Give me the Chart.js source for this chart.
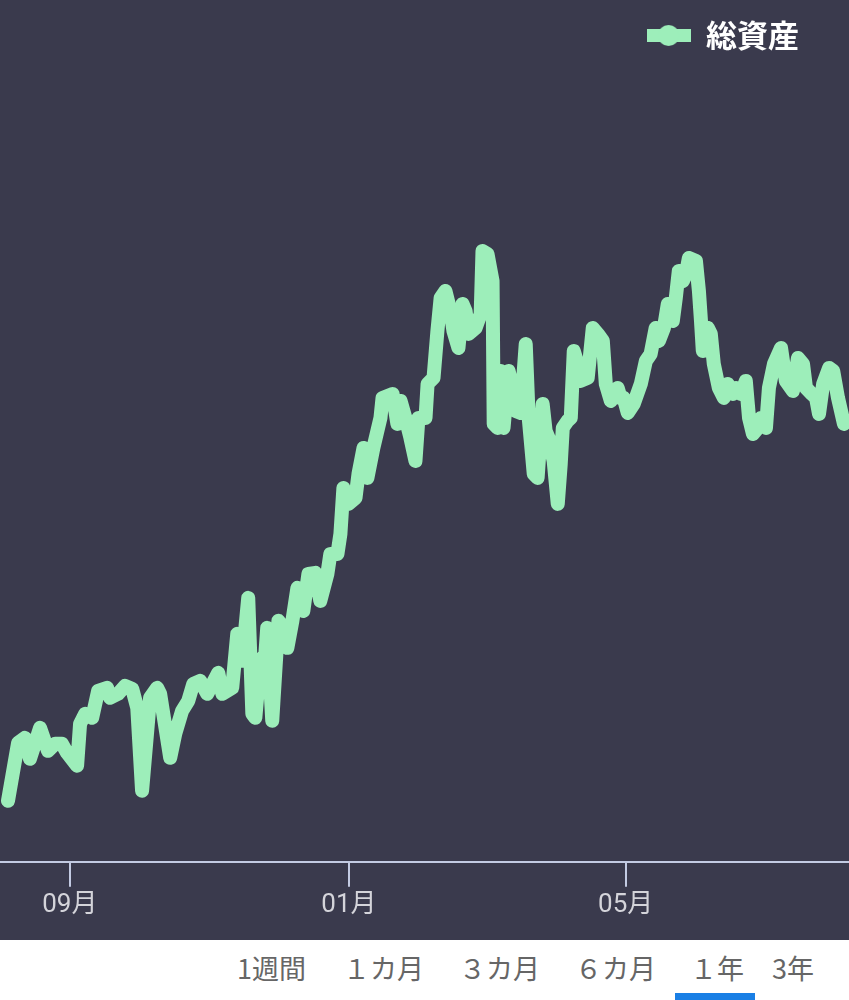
<!DOCTYPE html>
<html lang="ja">
<head>
<meta charset="utf-8">
<script src="https://cdn.jsdelivr.net/npm/chart.js@4.4.1/dist/chart.umd.min.js"></script>
<style>
  body { margin: 0; background: #fff; }
  #wrap { width: 849px; height: 940px; background: #3a3a4d; }
  .tabs { position: relative; width: 849px; height: 60px; background: #fff; font-family: "Noto Sans CJK JP", sans-serif; }
  .tabs span { position: absolute; top: 0; line-height: 56px; font-size: 27px; color: #666; white-space: nowrap; }
  .tabs .bar { position: absolute; left: 675px; top: 53px; width: 80px; height: 7px; background: #1a7fe5; }
</style>
</head>
<body>
<div id="wrap"><canvas id="myChart" width="849" height="940"></canvas></div>
<div class="tabs">
  <span style="left:237px">1週間</span>
  <span style="left:343px">１カ月</span>
  <span style="left:459px">３カ月</span>
  <span style="left:575px">６カ月</span>
  <span style="left:690px">１年</span>
  <span style="left:772px">3年</span>
  <div class="bar"></div>
</div>
<script>
// days since start of period, and total assets (arbitrary units)
const days = [
  0, 4.4, 7.4, 9.6, 14.0, 17.5, 20.6, 23.6, 25.8, 30.2, 31.5, 33.7, 36.8, 39.4, 43.3, 44.6, 48.1, 51.2, 54.3, 56.5,
  58.6, 62.1, 65.2, 66.5, 70.9, 73.1, 76.1, 78.8, 81.0, 84.0, 87.1, 91.9, 93.7, 98.0, 100.2, 102.4, 105.0, 106.8, 108.1, 110.3,
  112.5, 113.3, 115.5, 118.2, 120.4, 122.1, 124.3, 126.5, 129.1, 131.3, 134.4, 136.5, 139.6, 140.9, 144.0, 145.3, 146.6, 148.8, 151.9, 153.2,
  155.4, 157.1, 159.7, 162.8, 163.7, 168.1, 170.2, 171.6, 173.7, 175.9, 178.1, 179.4, 182.5, 183.4, 186.0, 187.7, 189.1, 191.2, 193.4, 194.7,
  196.9, 198.7, 200.0, 201.3, 204.4, 206.6, 207.4, 209.6, 211.8, 212.3, 214.0, 215.3, 216.6, 218.8, 220.6, 221.9, 224.1, 226.3, 227.6, 229.8,
  231.5, 233.7, 235.0, 236.3, 238.5, 240.3, 241.6, 242.5, 244.6, 246.0, 247.3, 249.0, 250.3, 253.4, 255.6, 257.8, 260.0, 261.3, 263.5, 266.5,
  267.8, 269.1, 270.9, 273.5, 276.6, 278.8, 280.9, 283.1, 284.5, 286.7, 288.4, 290.6, 291.9, 293.2, 295.0, 296.3, 297.6, 300.7, 302.0, 302.9,
  303.7, 305.9, 307.2, 308.5, 310.7, 312.9, 314.6, 316.8, 318.2, 320.4, 322.5, 323.9, 325.6, 327.8, 329.1, 331.3, 332.6, 334.8, 337.9, 340.0,
  343.1, 345.3, 347.5, 348.8, 351.3, 353.2, 354.5, 356.3, 358.9, 360.7, 362.8, 365.4
];
const totalAssets = [
  100, 158, 163, 142, 173, 150, 157, 157, 148, 135, 177, 187, 183, 210, 213, 203, 207, 215, 212, 193,
  110, 203, 213, 207, 143, 167, 190, 200, 217, 220, 207, 228, 207, 213, 267, 240, 303, 187, 183, 240,
  247, 273, 180, 280, 273, 253, 280, 313, 290, 327, 328, 300, 327, 347, 347, 367, 413, 397, 403, 427,
  453, 423, 453, 483, 503, 507, 477, 500, 483, 463, 440, 483, 483, 517, 523, 570, 603, 610, 590, 570,
  553, 597, 590, 567, 573, 587, 650, 647, 620, 477, 473, 530, 473, 530, 513, 490, 488, 557, 483, 427,
  423, 497, 470, 463, 440, 397, 437, 473, 480, 483, 550, 537, 520, 523, 573, 567, 560, 517, 500, 513,
  503, 503, 488, 497, 517, 540, 547, 573, 560, 573, 597, 580, 603, 630, 620, 627, 643, 640, 610, 580,
  550, 573, 567, 537, 513, 503, 517, 507, 513, 507, 520, 483, 467, 473, 483, 473, 513, 537, 553, 520,
  510, 543, 537, 513, 507, 503, 487, 517, 533, 530, 503, 477
];
const monthDays = [27, 149, 270];
const monthLabels = ['09月', '01月', '05月'];

const lineColor = '#9deeba';
const axisColor = '#c3cbe3';

// legend marker: thick line with a round bulge
const marker = document.createElement('canvas');
marker.width = 44;
marker.height = 21;
const mctx = marker.getContext('2d');
mctx.fillStyle = lineColor;
mctx.fillRect(0, 4, 44, 13);
mctx.beginPath();
mctx.arc(22, 10.5, 10.5, 0, Math.PI * 2);
mctx.fill();

// move the legend a bit away from the right edge
const legendShift = {
    id: 'legendShift',
    afterLayout(chart) {
        chart.legend.right -= 40;
    }
};

var ctx = document.getElementById('myChart').getContext('2d');
var myChart = new Chart(ctx, {
    type: 'line',
    data: {
        datasets: [{
            label: '総資産',
            data: days.map((d, i) => ({ x: d, y: totalAssets[i] })),
            borderColor: lineColor,
            backgroundColor: lineColor,
            borderWidth: 14,
            borderJoinStyle: 'round',
            borderCapStyle: 'round',
            pointRadius: 0,
            tension: 0
        }]
    },
    options: {
        responsive: false,
        animation: false,
        layout: { padding: { top: 10, bottom: 16, left: 0, right: 0 } },
        plugins: {
            tooltip: { enabled: false },
            legend: {
                position: 'top',
                align: 'end',
                labels: {
                    usePointStyle: true,
                    pointStyle: marker,
                    pointStyleWidth: 44,
                    color: '#ffffff',
                    padding: 10,
                    font: { family: '"Noto Sans CJK JP", sans-serif', size: 31, weight: 'bold' }
                }
            }
        },
        scales: {
            x: {
                type: 'linear',
                min: -3.5,
                max: 367.6,
                afterBuildTicks: function (scale) {
                    scale.ticks = monthDays.map(v => ({ value: v }));
                },
                ticks: {
                    autoSkip: false,
                    maxRotation: 0,
                    padding: 3,
                    color: '#d4d4da',
                    font: { family: 'Roboto, "Noto Sans CJK JP", sans-serif', size: 26 },
                    callback: function (value, index) {
                        return monthLabels[index];
                    }
                },
                grid: {
                    drawOnChartArea: false,
                    drawTicks: true,
                    tickLength: 25,
                    tickColor: axisColor,
                    tickWidth: 2,
                    color: axisColor,
                    lineWidth: 2
                },
                border: { display: true, color: axisColor, width: 2 }
            },
            y: {
                display: false,
                min: 39,
                max: 840
            }
        }
    },
    plugins: [legendShift]
});
</script>
</body>
</html>
